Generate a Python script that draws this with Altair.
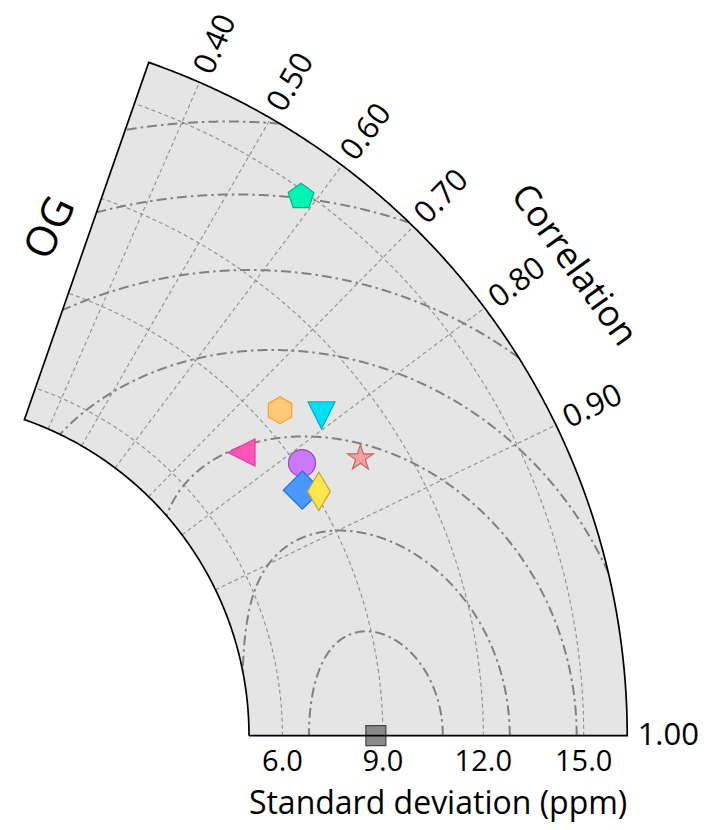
import numpy as np
import pandas as pd
import altair as alt

# ---------------- values ----------------
marker_std = [8.79, 14.82, 9.63, 10.48, 7.93, 10.70, 9.16, 8.72, 9.12]
marker_corr = [1.000, 0.583, 0.747, 0.786, 0.756, 0.849, 0.818, 0.845, 0.856]
marker_shape = ["square", "pentagon", "hexagon", "triangle_down", "triangle_left",
                "star", "circle", "diamond", "thin_diamond"]
marker_fill = ["#8a8a8a", "#00f5b5", "#ffc878", "#00e0f5", "#ff55b8",
               "#f4a0a0", "#cc77ff", "#4a98ff", "#ffe550"]
marker_edge = ["#444444", "#00b585", "#ffa020", "#00b0c5", "#e03c9c",
               "#c06868", "#9050b8", "#2070e8", "#c0a828"]

std_ticks = [6.0, 9.0, 12.0, 15.0]
corr_ticks = [0.40, 0.50, 0.60, 0.70, 0.80, 0.90, 1.00]
rmsd_levels = [2, 4, 6, 8, 10, 12, 14]

std_title = "Standard deviation (ppm)"
corr_title = "Correlation"
panel_label = "OG"

# ---------------- geometry of the truncated polar axes ----------------
STD_MIN, STD_MAX = 5.0, 16.3      # radial limits (std)
R_OFF = 5.0                       # radial origin offset
THMAX = np.deg2rad(70.8)          # angular extent (corr ~0.33)
PX = 33.47                        # pixels per std unit
W, H = 693, 814
X0, Y0 = -93.7, 727.7             # polar centre in plot pixels

xdom = [(0 - X0) / PX, (W - X0) / PX]
ydom = [(Y0 - H) / PX, (Y0 - 0) / PX]
xs = alt.Scale(domain=xdom, nice=False, zero=False)
ys = alt.Scale(domain=ydom, nice=False, zero=False)


def polar(std, th):
    r = np.asarray(std) + R_OFF
    return r * np.cos(th), r * np.sin(th)


RIN, ROUT = STD_MIN + R_OFF, STD_MAX + R_OFF

# sector fill
ug = np.linspace(RIN * np.cos(THMAX), ROUT, 1500)
ug = np.sort(np.concatenate([ug, [RIN, ROUT * np.cos(THMAX)]]))
lo = np.sqrt(np.clip(RIN ** 2 - ug ** 2, 0, None))
hi = np.minimum(np.sqrt(np.clip(ROUT ** 2 - ug ** 2, 0, None)), ug * np.tan(THMAX))
hi = np.maximum(hi, lo)
fill_df = pd.DataFrame({"u": ug, "lo": lo, "hi": hi})

# frame (closed outline)
th = np.linspace(0, THMAX, 400)
fu, fv = [], []
bu, bv = polar([STD_MIN, STD_MAX], np.array([0.0, 0.0]))
fu += list(bu); fv += list(bv)
ou, ov = polar(np.full_like(th, STD_MAX), th)
fu += list(ou); fv += list(ov)
iu, iv = polar(np.full_like(th, STD_MIN), th[::-1])
fu += list(iu); fv += list(iv)
fu.append(fu[0]); fv.append(fv[0])
frame_df = pd.DataFrame({"u": fu, "v": fv, "i": np.arange(len(fu))})

# std grid arcs
rows = []
for s in std_ticks:
    gu, gv = polar(np.full_like(th, s), th)
    for k in range(len(th)):
        rows.append({"g": f"s{s}", "i": k, "u": gu[k], "v": gv[k]})
# correlation radial lines
for c in corr_ticks[:-1]:
    a = np.arccos(c)
    gu, gv = polar([STD_MIN, STD_MAX], np.array([a, a]))
    for k in range(2):
        rows.append({"g": f"c{c}", "i": k, "u": gu[k], "v": gv[k]})
grid_df = pd.DataFrame(rows)

# RMSD contours centred on the reference
ref_std = marker_std[0]
rows = []
seg = 0
phi = np.linspace(0, np.pi, 3000)
for R in rmsd_levels:
    xd = ref_std + R * np.cos(phi)
    yd = R * np.sin(phi)
    s = np.hypot(xd, yd)
    t = np.arctan2(yd, xd)
    inside = (s >= STD_MIN) & (s <= STD_MAX) & (t <= THMAX)
    prev = False
    for k in range(len(phi)):
        if inside[k]:
            if not prev:
                seg += 1
            cu, cv = polar(s[k], t[k])
            rows.append({"seg": seg, "i": k, "u": cu, "v": cv})
        prev = inside[k]
rmsd_df = pd.DataFrame(rows)


# marker shapes (matplotlib-like, unit radius = half marker size)
def poly(n):
    pts = [(np.sin(2 * np.pi * k / n), -np.cos(2 * np.pi * k / n)) for k in range(n)]
    return "M" + "L".join(f"{x:.4f},{y:.4f}" for x, y in pts) + "Z"


def star():
    pts = []
    for k in range(10):
        r = 1.0 if k % 2 == 0 else 0.381966
        a = np.pi * k / 5
        pts.append((r * np.sin(a), -r * np.cos(a)))
    return "M" + "L".join(f"{x:.4f},{y:.4f}" for x, y in pts) + "Z"


SHAPES = {
    "square": "M-0.74,-0.74L0.74,-0.74L0.74,0.74L-0.74,0.74Z",
    "pentagon": poly(5),
    "hexagon": poly(6),
    "triangle_down": "M-1,-1L1,-1L0,1Z",
    "triangle_left": "M1,-1L1,1L-1,0Z",
    "star": star(),
    "circle": "circle",
    "diamond": "M0,-1.414L1.414,0L0,1.414L-1.414,0Z",
    "thin_diamond": "M0,-1.414L0.849,0L0,1.414L-0.849,0Z",
}

mk_df = pd.DataFrame({
    "std": marker_std, "corr": marker_corr,
    "shape": [SHAPES[m] for m in marker_shape],
    "fill": marker_fill, "edge": marker_edge,
    "order": np.arange(len(marker_std)),
})

# labels
std_lab = pd.DataFrame({"u": [s + R_OFF for s in std_ticks],
                        "v": [-26 / PX] * len(std_ticks),
                        "t": [f"{s:.1f}" for s in std_ticks]})
RLAB = 754 / PX
corr_lab = pd.DataFrame({
    "u": [RLAB * c for c in corr_ticks],
    "v": [RLAB * np.sqrt(1 - c * c) for c in corr_ticks],
    "ang": [(360 - np.degrees(np.arccos(c))) % 360 for c in corr_ticks],
    "t": [f"{c:.2f}" for c in corr_ticks],
})

ct_th = np.deg2rad(35.5)
ct_r = 810 / PX
og_th = np.deg2rad(75.0)
og_r = 15.7
titles = pd.DataFrame({
    "u": [(STD_MIN + STD_MAX) / 2 + R_OFF, ct_r * np.cos(ct_th), og_r * np.cos(og_th)],
    "v": [-68 / PX, ct_r * np.sin(ct_th), og_r * np.sin(og_th)],
    "ang": [0, 54.5, 296],
    "fs": [32, 36, 42],
    "t": [std_title, corr_title, panel_label],
})

X = lambda f: alt.X(f, scale=xs, axis=None)
Y = lambda f: alt.Y(f, scale=ys, axis=None)

sector = alt.Chart(fill_df).mark_area(color="#e5e5e5", clip=False).encode(
    x=X("u:Q"), y=Y("lo:Q"), y2="hi:Q")

grid = alt.Chart(grid_df).mark_line(color="#8e8e8e", strokeWidth=1.1,
                                    strokeDash=[4, 3]).encode(
    x=X("u:Q"), y=Y("v:Q"), detail="g:N", order="i:Q")

rmsd = alt.Chart(rmsd_df).mark_line(color="#808080", strokeWidth=2.0,
                                    strokeDash=[10, 4, 2.5, 4]).encode(
    x=X("u:Q"), y=Y("v:Q"), detail="seg:N", order="i:Q")

markers = alt.Chart(mk_df).transform_calculate(
    u="(datum.std + %f) * datum.corr" % R_OFF,
    v="(datum.std + %f) * sqrt(max(0, 1 - datum.corr * datum.corr))" % R_OFF,
).mark_point(filled=True, size=729, strokeWidth=1.2, opacity=1).encode(
    x=X("u:Q"), y=Y("v:Q"),
    shape=alt.Shape("shape:N", scale=None),
    fill=alt.Fill("fill:N", scale=None),
    stroke=alt.Stroke("edge:N", scale=None),
    order="order:Q",
)

frame = alt.Chart(frame_df).mark_line(color="black", strokeWidth=1.7).encode(
    x=X("u:Q"), y=Y("v:Q"), order="i:Q")

font = "Open Sans"
std_text = alt.Chart(std_lab).mark_text(font=font, fontSize=29, baseline="middle",
                                        align="center", color="black").encode(
    x=X("u:Q"), y=Y("v:Q"), text="t:N")

corr_text = alt.Chart(corr_lab).mark_text(font=font, fontSize=31, baseline="middle",
                                          align="center", color="black").encode(
    x=X("u:Q"), y=Y("v:Q"), text="t:N", angle=alt.Angle("ang:Q", scale=None))

title_text = alt.Chart(titles).mark_text(font=font, baseline="middle",
                                         align="center", color="black").encode(
    x=X("u:Q"), y=Y("v:Q"), text="t:N",
    angle=alt.Angle("ang:Q", scale=None),
    size=alt.Size("fs:Q", scale=None))

chart = alt.layer(sector, grid, rmsd, markers, frame, std_text, corr_text, title_text).properties(
    width=W, height=H, padding=0, autosize=alt.AutoSizeParams(type="none"),
    background="white",
).configure_view(stroke=None)

chart.save("out.html", embed_options={"renderer": "svg", "actions": False})
